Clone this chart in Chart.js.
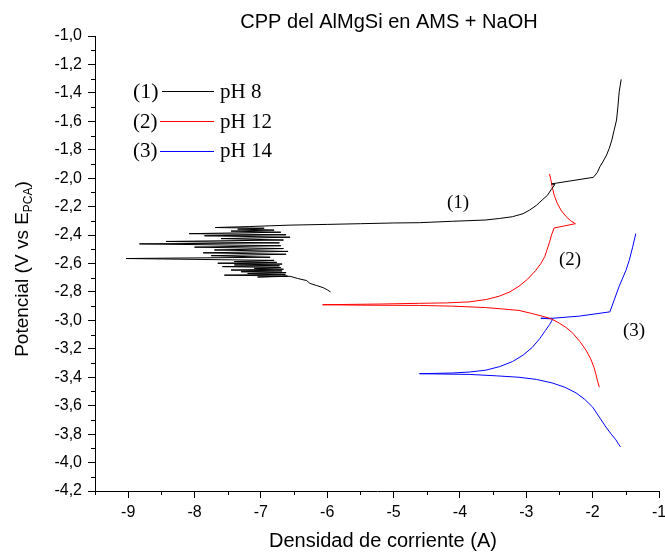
<!DOCTYPE html>
<html>
<head>
<meta charset="utf-8">
<script src="https://cdn.jsdelivr.net/npm/chart.js@4"></script>
<style>
  html, body { margin: 0; padding: 0; background: #fff; overflow: hidden; }
  #wrap { width: 665px; height: 552px; }
</style>
</head>
<body>
<div id="wrap"><canvas id="chart"></canvas></div>
<script>
// axis ticks
const xTicks = [-9, -8, -7, -6, -5, -4, -3, -2, -1];
const xMinorTicks = [-9.5, -8.5, -7.5, -6.5, -5.5, -4.5, -3.5, -2.5, -1.5];
const yTicks = [-4.2, -4.0, -3.8, -3.6, -3.4, -3.2, -3.0, -2.8, -2.6, -2.4, -2.2, -2.0, -1.8, -1.6, -1.4, -1.2, -1.0];
const yMinorTicks = [-4.1, -3.9, -3.7, -3.5, -3.3, -3.1, -2.9, -2.7, -2.5, -2.3, -2.1, -1.9, -1.7, -1.5, -1.3, -1.1];

const seriesNames = ['pH 8', 'pH 12', 'pH 14'];
const seriesTags = ['(1)', '(2)', '(3)'];

// pH 8 (black) - log i vs E
const ph8X = [-5.95, -6.00, -6.06, -6.16, -6.26, -6.31, -6.45, -6.56,
  -7.05, -6.60, -7.55, -6.63, -7.20, -6.62, -7.30, -6.68, -7.45, -6.66,
  -7.10, -6.70, -7.58, -6.72, -7.40, -6.68, -7.65, -6.76, -7.40, -6.80,
  -9.03, -6.86, -7.75, -6.62, -7.87, -6.59, -7.70, -6.66,
  -8.00, -6.70, -8.83, -6.72, -8.43, -6.66, -7.60, -6.56, -7.85, -6.62,
  -8.08, -6.70, -7.45, -6.80, -7.35, -6.95, -7.69,
  -7.17, -6.56, -6.00, -5.50, -5.00, -4.61, -4.11, -3.61, -3.40, -3.21, -3.05, -2.95,
  -2.85, -2.76, -2.68, -2.63, -2.57, -2.62, -2.55, -1.99, -1.93, -1.89, -1.84, -1.79,
  -1.75, -1.71, -1.675, -1.64, -1.62, -1.60, -1.57];
const ph8Y = [-2.80, -2.785, -2.77, -2.755, -2.74, -2.72, -2.705, -2.69,
  -2.695, -2.688, -2.682, -2.676, -2.670, -2.664, -2.658, -2.652, -2.646, -2.640,
  -2.634, -2.628, -2.622, -2.616, -2.610, -2.604, -2.598, -2.592, -2.586, -2.578,
  -2.565, -2.556, -2.545, -2.535, -2.525, -2.515, -2.505, -2.495,
  -2.485, -2.475, -2.462, -2.455, -2.445, -2.435, -2.425, -2.415, -2.405, -2.398,
  -2.39, -2.38, -2.372, -2.365, -2.358, -2.352, -2.347,
  -2.340, -2.330, -2.325, -2.320, -2.315, -2.313, -2.303, -2.294, -2.283, -2.271, -2.250, -2.224,
  -2.192, -2.153, -2.12, -2.083, -2.045, -2.04, -2.035, -1.994, -1.96, -1.919, -1.88, -1.837,
  -1.79, -1.731, -1.66, -1.591, -1.50, -1.392, -1.305];

// pH 12 (red)
const ph12X = [-1.90, -1.93, -1.95, -1.98, -2.03, -2.10, -2.19, -2.30, -2.40, -2.50,
  -2.62, -2.76, -2.93, -3.11, -3.35, -3.61, -4.11, -4.61, -5.50, -6.07,
  -5.20, -4.61, -4.20, -3.86, -3.60, -3.41, -3.25, -3.11, -2.98, -2.86,
  -2.78, -2.72, -2.685, -2.65, -2.62, -2.58, -2.26, -2.33, -2.40, -2.47,
  -2.53, -2.58, -2.61, -2.63, -2.65];
const ph12Y = [-3.47, -3.42, -3.38, -3.33, -3.27, -3.21, -3.15, -3.09, -3.05, -3.02,
  -2.99, -2.97, -2.95, -2.93, -2.92, -2.91, -2.90, -2.895, -2.893, -2.89,
  -2.885, -2.88, -2.877, -2.87, -2.853, -2.83, -2.80, -2.76, -2.71, -2.65,
  -2.60, -2.55, -2.50, -2.45, -2.40, -2.35, -2.32, -2.30, -2.27, -2.23,
  -2.18, -2.12, -2.06, -2.01, -1.97];

// pH 14 (blue)
const ph14X = [-1.58, -1.61, -1.65, -1.72, -1.80, -1.90, -2.00, -2.12, -2.25, -2.42,
  -2.61, -2.85, -3.11, -3.45, -3.86, -4.61, -4.30, -4.11, -3.85, -3.61,
  -3.40, -3.21, -3.05, -2.91, -2.80, -2.71, -2.65, -2.60, -2.78, -2.60,
  -2.20, -1.74, -1.67, -1.60, -1.50, -1.45, -1.40, -1.35];
const ph14Y = [-3.89, -3.87, -3.84, -3.80, -3.75, -3.68, -3.61, -3.555, -3.51, -3.47,
  -3.44, -3.415, -3.40, -3.39, -3.38, -3.375, -3.372, -3.37, -3.363, -3.35,
  -3.325, -3.29, -3.245, -3.19, -3.13, -3.07, -3.03, -2.99, -2.985, -2.985,
  -2.97, -2.94, -2.85, -2.76, -2.65, -2.58, -2.49, -2.39];

const colors = ['#000000', '#ff0000', '#0000ff'];

function toPoints(xs, ys) {
  return xs.map((x, i) => ({ x: x, y: ys[i] }));
}

const sans = 'Arial, "Liberation Sans", sans-serif';
const serif = '"Times New Roman", "Liberation Serif", serif';

// texts, minor ticks and the hand-made legend
const extras = {
  id: 'extras',
  afterDraw(chart) {
    const ctx = chart.ctx;
    const area = chart.chartArea;
    const xs = chart.scales.x, ys = chart.scales.y;
    ctx.save();

    // minor ticks
    ctx.strokeStyle = '#000';
    ctx.lineWidth = 1;
    ctx.beginPath();
    xMinorTicks.forEach(v => {
      const px = Math.round(xs.getPixelForValue(v)) + 0.5;
      ctx.moveTo(px, area.bottom);
      ctx.lineTo(px, area.bottom + 4);
    });
    yMinorTicks.forEach(v => {
      const py = Math.round(ys.getPixelForValue(v)) + 0.5;
      ctx.moveTo(area.left, py);
      ctx.lineTo(area.left - 4, py);
    });
    ctx.stroke();

    ctx.fillStyle = '#000';

    // title
    ctx.font = '20px ' + sans;
    ctx.textAlign = 'center';
    ctx.textBaseline = 'alphabetic';
    ctx.fillText('CPP del AlMgSi en AMS + NaOH', 389, 28);

    // x title
    ctx.fillText('Densidad de corriente (A)', 383, 547);

    // y title with subscript
    ctx.translate(28, 269);
    ctx.rotate(-Math.PI / 2);
    const main = 'Potencial (V vs E';
    ctx.font = '19px ' + sans;
    const w1 = ctx.measureText(main).width;
    ctx.font = '12px ' + sans;
    const w2 = ctx.measureText('PCA').width;
    ctx.font = '19px ' + sans;
    const w3 = ctx.measureText(')').width;
    const x0 = -(w1 + w2 + w3) / 2;
    ctx.textAlign = 'left';
    ctx.fillText(main, x0, 0);
    ctx.font = '12px ' + sans;
    ctx.fillText('PCA', x0 + w1, 4);
    ctx.font = '19px ' + sans;
    ctx.fillText(')', x0 + w1 + w2, 0);
    ctx.setTransform(1, 0, 0, 1, 0, 0);

    // legend
    const rowLine = [91.5, 121.5, 151.5];
    const rowBase = [98, 128, 157];
    const lineStart = [162, 160, 160];
    ctx.textAlign = 'left';
    for (let i = 0; i < 3; i++) {
      ctx.font = (i === 0 ? '22px ' : '21px ') + serif;
      ctx.fillText(seriesTags[i], 133, rowBase[i]);
      ctx.strokeStyle = colors[i];
      ctx.beginPath();
      ctx.moveTo(lineStart[i], rowLine[i]);
      ctx.lineTo(214, rowLine[i]);
      ctx.stroke();
      ctx.font = '21px ' + serif;
      ctx.fillText(seriesNames[i], 220, rowBase[i]);
    }

    // curve labels
    ctx.font = '19px ' + serif;
    ctx.textAlign = 'center';
    ctx.fillText('(1)', 458, 208);
    ctx.fillText('(2)', 570, 265);
    ctx.fillText('(3)', 634, 336);
    ctx.restore();
  }
};

new Chart(document.getElementById('chart'), {
  type: 'scatter',
  data: {
    datasets: [
      { label: seriesNames[0], data: toPoints(ph8X, ph8Y), borderColor: colors[0] },
      { label: seriesNames[1], data: toPoints(ph12X, ph12Y), borderColor: colors[1] },
      { label: seriesNames[2], data: toPoints(ph14X, ph14Y), borderColor: colors[2] }
    ]
  },
  options: {
    responsive: true,
    maintainAspectRatio: false,
    animation: false,
    devicePixelRatio: 1,
    layout: { padding: { top: 36, right: 6, bottom: 0, left: 0 } },
    elements: {
      line: { borderWidth: 1, tension: 0, fill: false },
      point: { radius: 0, hoverRadius: 0 }
    },
    datasets: { scatter: { showLine: true } },
    plugins: { legend: { display: false }, title: { display: false }, tooltip: { enabled: false } },
    scales: {
      x: {
        type: 'linear',
        min: -9.5,
        max: -1,
        afterBuildTicks: s => { s.ticks = xTicks.map(v => ({ value: v })); },
        afterFit: s => { s.height = 61; s.paddingLeft = 0; s.paddingRight = 0; },
        border: { color: '#000', width: 1 },
        grid: { drawOnChartArea: false, color: '#000', tickLength: 7 },
        ticks: {
          color: '#000', padding: 5, maxRotation: 0, autoSkip: false,
          font: { family: sans, size: 16 },
          callback: v => String(v)
        }
      },
      y: {
        type: 'linear',
        min: -4.2,
        max: -1.0,
        afterBuildTicks: s => { s.ticks = yTicks.map(v => ({ value: v })); },
        afterFit: s => { s.width = 95; s.paddingTop = 0; s.paddingBottom = 0; },
        border: { color: '#000', width: 1 },
        grid: { drawOnChartArea: false, color: '#000', tickLength: 7 },
        ticks: {
          color: '#000', padding: 6, autoSkip: false,
          font: { family: sans, size: 16 },
          callback: v => v.toFixed(1).replace('.', ',')
        }
      }
    }
  },
  plugins: [extras]
});
</script>
</body>
</html>
